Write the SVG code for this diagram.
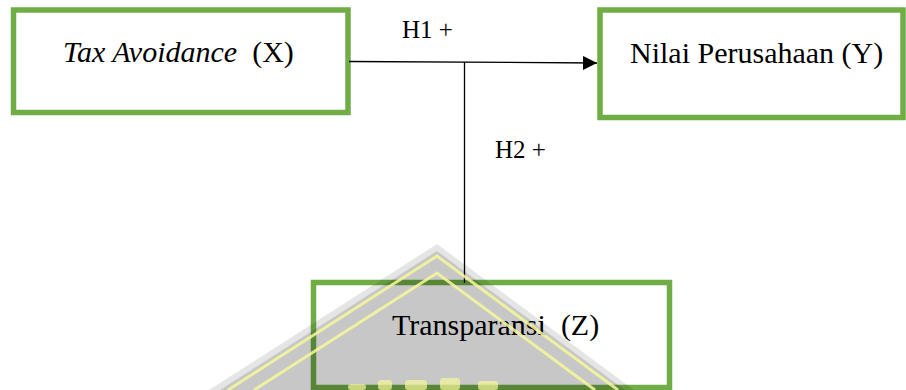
<svg xmlns="http://www.w3.org/2000/svg" width="906" height="390" viewBox="0 0 906 390">
  <defs>
    <style>
      .box { fill: #ffffff; stroke: #70AD47; stroke-width: 5.5; }
      .lbl { font-family: "Liberation Serif", "Times New Roman", serif; font-size: 30px; fill: #000000; }
      .hyp { font-family: "Liberation Serif", "Times New Roman", serif; font-size: 25px; fill: #000000; }
      .edge { stroke: #000000; stroke-width: 1.3; fill: none; }
      .wm-stripe { stroke: #f7f79a; stroke-width: 3; fill: none; opacity: 0.85; }
    </style>
    <marker id="arrow" markerUnits="userSpaceOnUse" markerWidth="15" markerHeight="15" refX="14" refY="7" orient="auto">
      <path d="M0,0 L14,7 L0,14 Z" fill="#000000"/>
    </marker>
  </defs>
  <rect width="906" height="390" fill="#ffffff"/>

  <g id="node-x">
    <rect class="box" x="13.5" y="10" width="334.5" height="102.5"/>
    <text class="lbl" x="63" y="62" xml:space="preserve"><tspan font-style="italic">Tax Avoidance</tspan>  (X)</text>
  </g>

  <g id="node-y">
    <rect class="box" x="600" y="10" width="303" height="107.5"/>
    <text class="lbl" x="630" y="63">Nilai Perusahaan (Y)</text>
  </g>

  <g id="node-z">
    <rect class="box" x="313.5" y="282.5" width="356" height="105"/>
    <text class="lbl" x="392" y="335" xml:space="preserve">Transparansi  (Z)</text>
  </g>

  <g id="connectors">
    <line class="edge" x1="349" y1="61.5" x2="597" y2="63" marker-end="url(#arrow)"/>
    <line class="edge" x1="464.5" y1="62" x2="464.5" y2="283"/>
    <text class="hyp" x="402" y="38">H1 +</text>
    <text class="hyp" x="495" y="158">H2 +</text>
  </g>

  <g id="watermark">
    <polygon points="437,244 209,390 634,390" fill="#000000" opacity="0.1"/>
    <polygon points="437,251 220,390 625,390" fill="#000000" opacity="0.13"/>
    <polyline class="wm-stripe" points="228,390 437,256 618,390"/>
    <polyline class="wm-stripe" points="254,390 437,273 595,390"/>
    <g fill="#f7f79a" opacity="0.7">
      <rect x="348" y="384" width="18" height="6" rx="3"/>
      <rect x="378" y="380" width="14" height="10" rx="3"/>
      <rect x="405" y="380" width="22" height="10" rx="3"/>
      <rect x="440" y="378" width="20" height="12" rx="3"/>
      <rect x="478" y="381" width="20" height="9" rx="3"/>
    </g>
  </g>
</svg>
